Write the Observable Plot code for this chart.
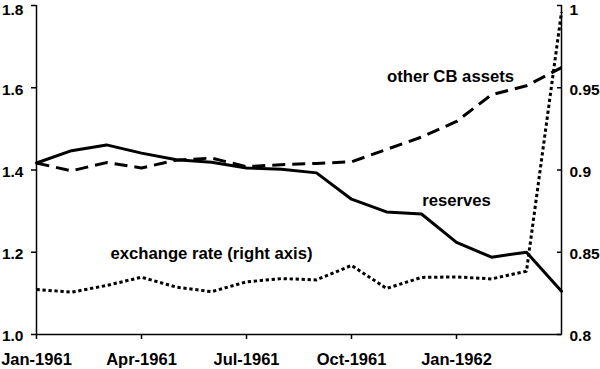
<!DOCTYPE html>
<html>
<head>
<meta charset="utf-8">
<script src="https://cdn.jsdelivr.net/npm/d3@7"></script>
<script src="https://cdn.jsdelivr.net/npm/@observablehq/plot@0.6"></script>
<style>
  html, body { margin: 0; padding: 0; background: #fff; }
  #chart svg { display: block; }
</style>
</head>
<body>
<div id="chart"></div>
<script>
const months = ["Jan-1961","Feb-1961","Mar-1961","Apr-1961","May-1961","Jun-1961","Jul-1961","Aug-1961","Sep-1961","Oct-1961","Nov-1961","Dec-1961","Jan-1962","Feb-1962","Mar-1962","Apr-1962"];
const reserves = [1.417, 1.447, 1.461, 1.441, 1.425, 1.419, 1.405, 1.402, 1.393, 1.329, 1.298, 1.293, 1.224, 1.188, 1.200, 1.105];
const otherCB = [1.417, 1.398, 1.418, 1.405, 1.424, 1.429, 1.408, 1.413, 1.416, 1.420, 1.450, 1.480, 1.518, 1.583, 1.605, 1.649];
const exchangeRate = [0.8274, 0.8257, 0.8298, 0.8348, 0.8288, 0.8260, 0.8320, 0.8340, 0.8332, 0.8420, 0.8280, 0.8347, 0.8350, 0.8338, 0.8385, 0.9960];
const xTicks = ["Jan-1961","Apr-1961","Jul-1961","Oct-1961","Jan-1962"];
const leftTicks = [1.0, 1.2, 1.4, 1.6, 1.8];
const rightTicks = [0.8, 0.85, 0.9, 0.95, 1.0];
const labels = [
  {text: "other CB assets", month: 11.83, value: 1.628, anchor: "middle"},
  {text: "reserves", month: 12, value: 1.325, anchor: "middle"},
  {text: "exchange rate (right axis)", month: 5, value: 1.196, anchor: "start"}
];

// right axis (0.8–1) mapped onto the left scale (1.0–1.8)
const toLeft = v => 1 + (v - 0.8) * 4;
const toRight = v => 0.8 + (v - 1) / 4;

const rows = months.map((m, i) => ({i, reserves: reserves[i], other: otherCB[i], fx: toLeft(exchangeRate[i])}));
const font = "'Liberation Sans', Arial, Helvetica, sans-serif";
const topLeft = leftTicks[leftTicks.length - 1];
const topRight = toLeft(rightTicks[rightTicks.length - 1]);

const chart = Plot.plot({
  width: 600,
  height: 369,
  marginLeft: 36,
  marginRight: 39,
  marginTop: 5,
  marginBottom: 35,
  style: {fontFamily: font, fontWeight: "bold", color: "black", background: "white"},
  x: {type: "linear", domain: [0, months.length - 1]},
  y: {domain: [1, 1.8]},
  marks: [
    Plot.ruleY([1], {stroke: "black", strokeWidth: 1.5}),
    Plot.ruleX([0, months.length - 1], {stroke: "black", strokeWidth: 1.5}),
    Plot.axisX({
      ticks: xTicks.map(t => months.indexOf(t)),
      tickFormat: i => months[i],
      tickSize: 5, tickPadding: 14, fontSize: 16.5, fontWeight: "bold", strokeWidth: 1.5
    }),
    // left axis: tick marks
    Plot.axisY({
      ticks: leftTicks, tickFormat: () => "",
      tickSize: 5, strokeWidth: 1.5
    }),
    // left axis: labels
    Plot.axisY({
      ticks: leftTicks.filter(t => t !== topLeft), tickFormat: d => d.toFixed(1),
      tickSize: 0, tickPadding: 13, fontSize: 15.5, fontWeight: "bold", dy: 2
    }),
    Plot.axisY({
      ticks: [topLeft], tickFormat: d => d.toFixed(1),
      tickSize: 0, tickPadding: 13, fontSize: 15.5, fontWeight: "bold", dy: 4.2
    }),
    // right axis: inward ticks
    Plot.axisY({
      anchor: "right", ticks: rightTicks.map(toLeft), tickFormat: () => "",
      tickSize: 5, dx: -5, strokeWidth: 1.5
    }),
    // right axis: labels
    Plot.axisY({
      anchor: "right", ticks: rightTicks.map(toLeft).filter(t => t !== topRight),
      tickFormat: d => String(+toRight(d).toFixed(2)),
      tickSize: 0, tickPadding: 8, fontSize: 15.5, fontWeight: "bold", dy: 2
    }),
    Plot.axisY({
      anchor: "right", ticks: [topRight],
      tickFormat: d => String(+toRight(d).toFixed(2)),
      tickSize: 0, tickPadding: 8, fontSize: 15.5, fontWeight: "bold", dy: 4.2
    }),
    Plot.line(rows, {x: "i", y: "fx", stroke: "black", strokeWidth: 3, strokeDasharray: "3.3,2.7", strokeLinecap: "butt"}),
    Plot.line(rows, {x: "i", y: "other", stroke: "black", strokeWidth: 3, strokeDasharray: "13,7", strokeLinecap: "butt"}),
    Plot.line(rows, {x: "i", y: "reserves", stroke: "black", strokeWidth: 3}),
    Plot.text(labels, {
      x: "month", y: "value", text: "text", textAnchor: d => d.anchor,
      fontSize: 16.7, fontWeight: "bold", fill: "black"
    })
  ]
});
document.getElementById("chart").appendChild(chart);
</script>
</body>
</html>
